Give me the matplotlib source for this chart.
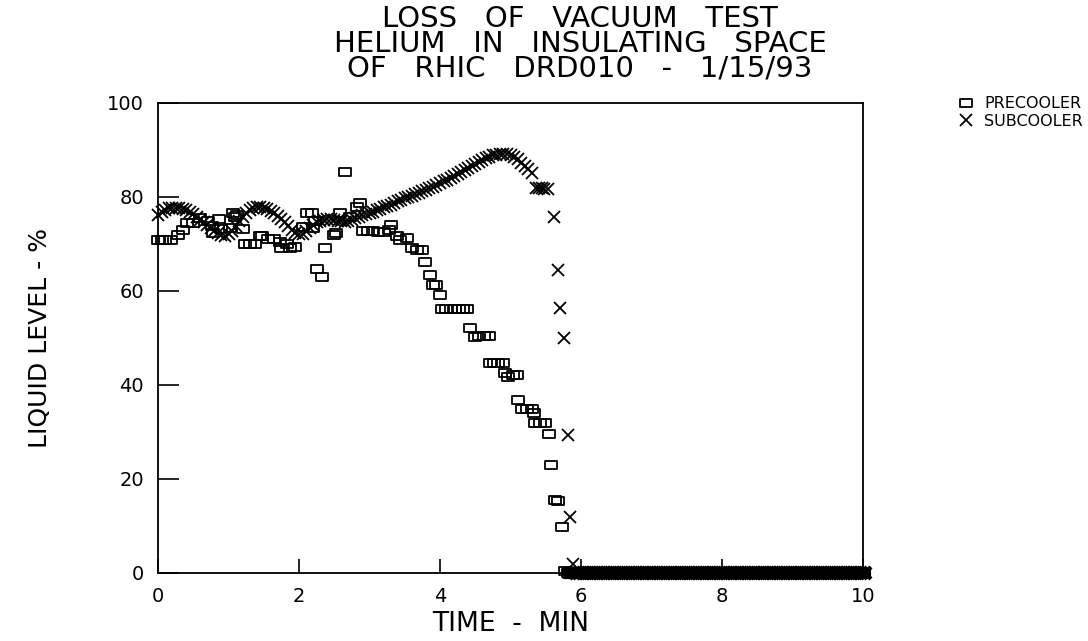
import matplotlib
matplotlib.use('Agg')
import matplotlib.pyplot as plt
from matplotlib.path import Path

# precooler liquid level (%), time in minutes
pre_time = [0.00, 0.05, 0.10, 0.19, 0.29, 0.36, 0.41, 0.50, 0.60, 0.71,
            0.76, 0.78, 0.86, 0.90, 1.02, 1.07, 1.09, 1.12, 1.21, 1.23,
            1.30, 1.38, 1.45, 1.48, 1.56, 1.64, 1.73, 1.75, 1.83, 1.87,
            1.94, 2.06, 2.12, 2.18, 2.20, 2.23, 2.26, 2.32, 2.37, 2.49,
            2.53, 2.58, 2.65, 2.72, 2.82, 2.87, 2.91, 2.98, 3.05, 3.12,
            3.20, 3.27, 3.31, 3.39, 3.43, 3.53, 3.60, 3.67, 3.74, 3.79,
            3.86, 3.90, 3.95, 4.00, 4.03, 4.09, 4.15, 4.21, 4.27, 4.33,
            4.38, 4.43, 4.49, 4.56, 4.63, 4.69, 4.71, 4.76, 4.82, 4.89,
            4.92, 4.97, 5.04, 5.09, 5.11, 5.16, 5.23, 5.30, 5.33, 5.35,
            5.42, 5.49, 5.54, 5.58, 5.63, 5.68, 5.73, 5.77, 5.82]
pre_level = [70.9, 70.9, 70.9, 70.9, 71.9, 73.0, 74.5, 74.5, 75.5, 75.0,
             73.8, 72.4, 75.3, 73.1, 73.3, 76.7, 75.7, 76.2, 73.1, 70.1,
             70.1, 70.1, 71.6, 71.6, 71.1, 71.1, 70.5, 69.1, 70.1, 69.1,
             69.4, 73.7, 76.6, 76.6, 73.3, 74.9, 64.6, 63.0, 69.1, 71.9,
             72.3, 76.5, 85.3, 75.8, 77.9, 78.7, 72.8, 72.8, 72.8, 72.6,
             72.6, 73.0, 74.0, 71.6, 70.9, 71.2, 69.1, 68.7, 68.7, 66.1,
             63.4, 61.3, 61.3, 59.1, 56.1, 56.1, 56.1, 56.1, 56.1, 56.1,
             56.1, 52.1, 50.3, 50.4, 50.4, 50.4, 44.6, 44.6, 44.6, 44.6,
             42.6, 41.8, 42.1, 42.1, 36.8, 35.0, 35.0, 35.0, 34.1, 32.0,
             32.0, 32.0, 29.5, 23.0, 15.5, 15.4, 9.7, 0.4, 0.0]

# subcooler liquid level (%), time in minutes
sub_time = [0.00, 0.05, 0.10, 0.15, 0.20, 0.25, 0.30, 0.35, 0.40, 0.45,
            0.50, 0.55, 0.60, 0.65, 0.70, 0.75, 0.80, 0.85, 0.90, 0.95,
            1.00, 1.05, 1.10, 1.15, 1.20, 1.25, 1.30, 1.35, 1.40, 1.45,
            1.50, 1.55, 1.60, 1.65, 1.70, 1.75, 1.80, 1.85, 1.90, 1.95,
            2.00, 2.05, 2.10, 2.15, 2.20, 2.25, 2.30, 2.35, 2.40, 2.45,
            2.50, 2.55, 2.60, 2.65, 2.70, 2.75, 2.80, 2.85, 2.90, 2.95,
            3.00, 3.05, 3.10, 3.15, 3.20, 3.25, 3.30, 3.35, 3.40, 3.45,
            3.50, 3.55, 3.60, 3.65, 3.70, 3.75, 3.80, 3.85, 3.90, 3.95,
            4.00, 4.05, 4.10, 4.15, 4.20, 4.25, 4.30, 4.35, 4.40, 4.45,
            4.50, 4.55, 4.60, 4.65, 4.70, 4.75, 4.80, 4.85, 4.90, 4.95,
            5.00, 5.05, 5.10, 5.15, 5.20, 5.25, 5.30, 5.36, 5.40, 5.44,
            5.48, 5.53, 5.61, 5.67, 5.70, 5.76, 5.82, 5.84, 5.89]
sub_level = [76.2, 76.8, 77.3, 77.6, 77.7, 77.7, 77.6, 77.5, 77.2, 76.8,
             76.3, 75.8, 75.2, 74.6, 74.0, 73.4, 72.8, 72.3, 71.9, 71.8,
             72.1, 72.8, 73.8, 74.8, 75.8, 76.6, 77.2, 77.6, 77.8, 77.8,
             77.7, 77.5, 77.1, 76.6, 76.0, 75.3, 74.6, 73.8, 73.0, 72.4,
             72.1, 72.2, 72.7, 73.4, 74.1, 74.6, 75.0, 75.2, 75.3, 75.3,
             75.2, 75.0, 74.8, 74.7, 74.8, 75.1, 75.5, 75.8, 76.1, 76.3,
             76.6, 76.9, 77.2, 77.5, 77.8, 78.1, 78.4, 78.8, 79.1, 79.4,
             79.7, 80.0, 80.3, 80.6, 80.9, 81.2, 81.5, 81.9, 82.2, 82.6,
             83.0, 83.3, 83.6, 84.0, 84.4, 84.8, 85.3, 85.8, 86.2, 86.6,
             87.0, 87.4, 87.8, 88.2, 88.6, 88.9, 89.0, 89.1, 89.1, 89.1,
             89.0, 88.6, 88.0, 87.3, 86.6, 85.9, 85.2, 82.0, 82.0, 82.0,
             81.8, 81.8, 75.7, 64.5, 56.4, 50.0, 29.4, 11.9, 2.0]

# after the dewar empties both probes read zero to the end of the record
pre_empty_time = [5.85, 5.90, 5.95, 6.00, 6.05, 6.10, 6.15, 6.20, 6.25, 6.30,
                  6.35, 6.40, 6.45, 6.50, 6.55, 6.60, 6.65, 6.70, 6.75, 6.80,
                  6.85, 6.90, 6.95, 7.00, 7.05, 7.10, 7.15, 7.20, 7.25, 7.30,
                  7.35, 7.40, 7.45, 7.50, 7.55, 7.60, 7.65, 7.70, 7.75, 7.80,
                  7.85, 7.90, 7.95, 8.00, 8.05, 8.10, 8.15, 8.20, 8.25, 8.30,
                  8.35, 8.40, 8.45, 8.50, 8.55, 8.60, 8.65, 8.70, 8.75, 8.80,
                  8.85, 8.90, 8.95, 9.00, 9.05, 9.10, 9.15, 9.20, 9.25, 9.30,
                  9.35, 9.40, 9.45, 9.50, 9.55, 9.60, 9.65, 9.70, 9.75, 9.80,
                  9.85, 9.90, 9.95, 10.00]
sub_empty_time = [5.925, 5.975, 6.025, 6.075, 6.125, 6.175, 6.225, 6.275,
                  6.325, 6.375, 6.425, 6.475, 6.525, 6.575, 6.625, 6.675,
                  6.725, 6.775, 6.825, 6.875, 6.925, 6.975, 7.025, 7.075,
                  7.125, 7.175, 7.225, 7.275, 7.325, 7.375, 7.425, 7.475,
                  7.525, 7.575, 7.625, 7.675, 7.725, 7.775, 7.825, 7.875,
                  7.925, 7.975, 8.025, 8.075, 8.125, 8.175, 8.225, 8.275,
                  8.325, 8.375, 8.425, 8.475, 8.525, 8.575, 8.625, 8.675,
                  8.725, 8.775, 8.825, 8.875, 8.925, 8.975, 9.025, 9.075,
                  9.125, 9.175, 9.225, 9.275, 9.325, 9.375, 9.425, 9.475,
                  9.525, 9.575, 9.625, 9.675, 9.725, 9.775, 9.825, 9.875,
                  9.925, 9.975, 10.025]
pre_empty_level = [0.0] * len(pre_empty_time)
sub_empty_level = [0.0] * len(sub_empty_time)

x_ticks = [0, 2, 4, 6, 8, 10]
y_ticks = [0, 20, 40, 60, 80, 100]
title_lines = ['LOSS   OF   VACUUM   TEST',
               'HELIUM   IN   INSULATING   SPACE',
               'OF   RHIC   DRD010   -   1/15/93']

plt.rcParams['font.family'] = ['DejaVu Sans']

# plotter style box marker, a little wider than tall
box = Path([(-1.25, -1), (1.25, -1), (1.25, 1), (-1.25, 1), (-1.25, -1)],
           [Path.MOVETO, Path.LINETO, Path.LINETO, Path.LINETO, Path.CLOSEPOLY])

fig = plt.figure(figsize=(10.88, 6.41), dpi=100)
ax = fig.add_axes([158 / 1088, 1 - 573 / 641, 705 / 1088, 470 / 641])

pre_style = dict(linestyle='none', marker=box, markersize=8,
                 markerfacecolor='none', markeredgecolor='black',
                 markeredgewidth=1.3, clip_on=False)
sub_style = dict(linestyle='none', marker='x', markersize=8,
                 markeredgecolor='black', markeredgewidth=1.3, clip_on=False)

ax.plot(pre_time, pre_level, label='PRECOOLER', **pre_style)
ax.plot(sub_time, sub_level, label='SUBCOOLER', **sub_style)
# the zero run is drawn with a heavier pen
ax.plot(pre_empty_time, pre_empty_level, **dict(pre_style, markeredgewidth=3.0))
ax.plot(sub_empty_time, sub_empty_level, **dict(sub_style, markeredgewidth=3.0))

ax.set_xlim(0, 10)
ax.set_ylim(0, 100)
ax.set_xticks(x_ticks)
ax.set_yticks(y_ticks)
ax.tick_params(direction='in', width=1.2, labelsize=14, pad=10)
ax.tick_params(axis='y', length=15)
ax.tick_params(axis='x', length=10)
for s in ax.spines.values():
    s.set_linewidth(1.3)

ax.set_xlabel('TIME  -  MIN', fontsize=19, labelpad=4)
ax.set_ylabel('LIQUID LEVEL - %', fontsize=18, labelpad=40)

fig.text(580 / 1088, 1 - 44 / 641, '\n'.join(title_lines), fontsize=21,
         ha='center', va='center', multialignment='center', linespacing=0.86)

fig.legend(loc='upper left', bbox_to_anchor=(952 / 1088, 1 - 90 / 641),
           frameon=False, fontsize=11.5, handlelength=1.0,
           handletextpad=0.6, labelspacing=0.15, borderaxespad=0)

fig.savefig('out.png', dpi=100)
